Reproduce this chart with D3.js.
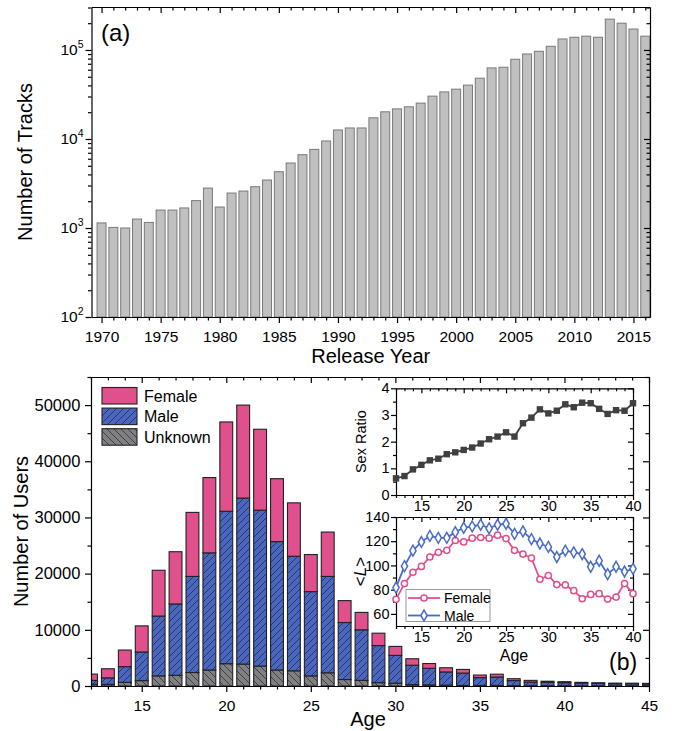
<!DOCTYPE html>
<html><head><meta charset="utf-8">
<script src="https://cdn.jsdelivr.net/npm/d3@7"></script>
<style>
body{margin:0;background:#fff;}
svg{display:block;font-family:Arial,"Liberation Sans",sans-serif;}
.ax path,.ax line{stroke:#000;stroke-width:1.2;}
.ax text{fill:#000;}
</style></head><body>
<svg id="c" width="674" height="731"></svg>
<script>
// ---------- DATA ----------
const years = [1970,1971,1972,1973,1974,1975,1976,1977,1978,1979,1980,1981,1982,1983,1984,1985,1986,1987,1988,1989,
  1990,1991,1992,1993,1994,1995,1996,1997,1998,1999,2000,2001,2002,2003,2004,2005,2006,2007,2008,2009,
  2010,2011,2012,2013,2014,2015,2016];
const trackCounts = [1140,1015,1000,1260,1155,1590,1590,1680,2030,2810,1720,2470,2600,2910,3460,4290,5370,6660,7640,9500,
  12630,13300,13300,17300,20200,21800,23000,25300,30300,33800,36300,40300,48200,62900,64000,78700,90200,96700,110000,133000,
  139000,143000,139000,222000,200000,172000,143000];
const yearTicks = [1970,1975,1980,1985,1990,1995,2000,2005,2010,2015];
const logTicks = [100,1000,10000,100000];
const logTickExp = ["2","3","4","5"];

const ages = [12,13,14,15,16,17,18,19,20,21,22,23,24,25,26,27,28,29,30,31,32,33,34,35,36,37,38,39,40,41,42,43,44,45];
const unknownUsers = [300,300,650,950,1800,1900,2400,2850,3970,3900,3550,2850,2700,1800,2350,1150,1000,600,500,250,200,150,100,100,100,70,50,50,50,40,40,30,30,30];
const maleUsers = [700,1150,2800,5100,10650,12700,17100,20850,27130,29550,27750,22850,20400,15000,17150,10150,9000,6600,4950,3450,2950,2350,2200,1400,1500,900,650,600,550,470,420,380,370,340];
const femaleUsers = [1120,1620,2950,4650,8150,9300,11400,13400,15900,16550,14400,11200,9500,6600,7900,3900,3100,2200,1600,1150,850,750,650,450,500,330,300,200,170,140,120,100,100,100];
const genders = ["Unknown","Male","Female"];
const userTicks = [0,10000,20000,30000,40000,50000];
const ageTicks = [15,20,25,30,35,40,45];

const insetAges = [12,13,14,15,16,17,18,19,20,21,22,23,24,25,26,27,28,29,30,31,32,33,34,35,36,37,38,39,40];
const sexRatio = [0.625,0.71,0.96,1.13,1.30,1.36,1.53,1.60,1.69,1.78,1.93,2.09,2.19,2.35,2.19,2.69,2.90,3.21,3.06,3.16,3.40,3.29,3.46,3.44,3.23,3.04,3.18,3.16,3.44];
const lengthFemale = [72,85,94.4,99.2,107,110.8,112.5,120.6,119.4,122.5,123.1,122.5,125,122.2,112.5,109.4,106.1,88.6,91.7,84.2,83.9,79.2,72.5,76.1,76.7,72.2,73.9,85,76.7];
const lengthMale = [81.7,99.4,112.2,119.4,124.4,122.8,122.8,127.5,131.1,132.2,133.6,130.6,133.6,134.4,126.1,128.1,121.7,118.1,115.3,107,112.2,110.8,109.4,98.9,103.9,92.8,98.9,95,97.2];
const insetAgeTicks = [15,20,25,30,35,40];
const ratioTicks = [0,1,2,3,4];
const lengthTicks = [60,80,100,120,140];

// ---------- STYLE ----------
const pink = "#E0508C", blue = "#4A66BE", grey = "#808080";
const fmt = d3.format("d");
const svg = d3.select("#c");
const defs = svg.append("defs");
function hatch(id, bg, dir){
  const s = 7;
  const p = defs.append("pattern").attr("id",id).attr("patternUnits","userSpaceOnUse").attr("width",s).attr("height",s);
  p.append("rect").attr("width",s).attr("height",s).attr("fill",bg);
  const d = dir>0 ? `M-1,${s+1} L${s+1},-1 M-3,3 L3,-3 M${s-3},${s+3} L${s+3},${s-3}`
                  : `M-1,-1 L${s+1},${s+1} M-3,${s-3} L3,${s+3} M${s-3},-3 L${s+3},3`;
  p.append("path").attr("d",d).attr("stroke","#1a1f3a").attr("stroke-width",0.75).attr("stroke-opacity",0.9);
}
hatch("hMale", blue, 1);
hatch("hUnk", grey, -1);
const fillOf = {Female: pink, Male: "url(#hMale)", Unknown: "url(#hUnk)"};

function range1(a,b,s){const r=[];for(let v=a;v<=b+1e-9;v+=s)r.push(+v.toFixed(6));return r;}

function drawAxis(g, axisFn, scale, vals, size, labels, tx, ty){
  const a = axisFn(scale).tickValues(vals).tickSizeInner(size).tickSizeOuter(0).tickFormat(labels?fmt:"");
  return g.append("g").attr("class","ax").attr("transform",`translate(${tx},${ty})`).call(a);
}

// ================= PANEL (a) =================
const aL=91.5,aR=650,aT=7,aB=317;
const xTop = d3.scaleLinear().domain([1969.15,2016.4]).range([aL,aR]);
const yTop = d3.scaleLog().domain([100,3.04e5]).range([aB,aT]);
const bwTop = (xTop(1971)-xTop(1970))*0.76;
const gA = svg.append("g");
gA.selectAll("rect.tb").data(years).enter().append("rect")
  .attr("x",(d)=>xTop(d)-bwTop/2).attr("width",bwTop)
  .attr("y",(d,i)=>yTop(trackCounts[i])).attr("height",(d,i)=>aB-yTop(trackCounts[i]))
  .attr("fill","#c0c0c0").attr("stroke","#7a7a7a").attr("stroke-width",1);

const minorYears = years.filter(y=>y%5!==0);
drawAxis(gA,d3.axisBottom,xTop,yearTicks,6,true,0,aB).selectAll("text").attr("font-size",15.5).attr("dy","1.05em");
drawAxis(gA,d3.axisBottom,xTop,minorYears,3.5,false,0,aB).select(".domain").remove();
drawAxis(gA,d3.axisTop,xTop,yearTicks,-6,false,0,aT);
drawAxis(gA,d3.axisTop,xTop,minorYears,-3.5,false,0,aT).select(".domain").remove();
const logMinor=[];
[100,1000,10000,100000].forEach(b=>{for(let k=2;k<=9;k++){const v=b*k;if(v<=3.04e5)logMinor.push(v);}});
drawAxis(gA,d3.axisLeft,yTop,logTicks,6,false,aL,0);
drawAxis(gA,d3.axisLeft,yTop,logMinor,3.5,false,aL,0).select(".domain").remove();
drawAxis(gA,d3.axisRight,yTop,logTicks,-6,false,aR,0);
drawAxis(gA,d3.axisRight,yTop,logMinor,-3.5,false,aR,0).select(".domain").remove();
logTicks.forEach((v,i)=>{
  const t = gA.append("text").attr("x",aL-8).attr("y",yTop(v)+5).attr("text-anchor","end").attr("font-size",15.5);
  t.append("tspan").text("10");
  t.append("tspan").attr("dy",-7).attr("font-size",10.5).text(logTickExp[i]);
});
gA.append("text").attr("transform",`translate(32,${(aT+aB)/2}) rotate(-90)`).attr("text-anchor","middle").attr("font-size",20).text("Number of Tracks");
gA.append("text").attr("x",(aL+aR)/2).attr("y",363).attr("text-anchor","middle").attr("font-size",20).text("Release Year");
gA.append("text").attr("x",101).attr("y",41).attr("font-size",24).text("(a)");

// ================= PANEL (b) =================
const bL=91,bR=649,bT=377,bB=686;
const xB = d3.scaleLinear().domain([12,45]).range([bL,bR]);
const yB = d3.scaleLinear().domain([0,55000]).range([bB,bT]);
const bwB = (xB(13)-xB(12))*0.76;
defs.append("clipPath").attr("id","clipB").append("rect").attr("x",bL).attr("y",bT).attr("width",bR-bL).attr("height",bB-bT);
const gB = svg.append("g");
const rows = ages.map((a,i)=>({age:a,Unknown:unknownUsers[i],Male:maleUsers[i],Female:femaleUsers[i]}));
const stacked = d3.stack().keys(genders)(rows);
const barsG = gB.append("g").attr("clip-path","url(#clipB)");
stacked.forEach(layer=>{
  barsG.selectAll(null).data(layer).enter().append("rect")
    .attr("x",d=>xB(d.data.age)-bwB/2).attr("width",bwB)
    .attr("y",d=>yB(d[1])).attr("height",d=>yB(d[0])-yB(d[1]))
    .attr("fill",fillOf[layer.key]).attr("stroke","#222").attr("stroke-width",1.1);
});
const ageMinor = range1(12,45,1).filter(v=>v%5!==0);
drawAxis(gB,d3.axisBottom,xB,ageTicks,6,true,0,bB).selectAll("text").attr("font-size",15.5).attr("dy","1.05em");
drawAxis(gB,d3.axisBottom,xB,ageMinor,3.5,false,0,bB).select(".domain").remove();
drawAxis(gB,d3.axisTop,xB,ageTicks,-6,false,0,bT);
drawAxis(gB,d3.axisTop,xB,ageMinor,-3.5,false,0,bT).select(".domain").remove();
const userMinor=[5000,15000,25000,35000,45000,55000];
drawAxis(gB,d3.axisLeft,yB,userTicks,6,true,bL,0).selectAll("text").attr("font-size",16.5).attr("dx","-0.1em");
drawAxis(gB,d3.axisLeft,yB,userMinor,3.5,false,bL,0).select(".domain").remove();
drawAxis(gB,d3.axisRight,yB,userTicks,-6,false,bR,0);
drawAxis(gB,d3.axisRight,yB,userMinor,-3.5,false,bR,0).select(".domain").remove();
gB.append("text").attr("transform",`translate(28,${(bT+bB)/2}) rotate(-90)`).attr("text-anchor","middle").attr("font-size",20).text("Number of Users");
gB.append("text").attr("x",368).attr("y",726).attr("text-anchor","middle").attr("font-size",20).text("Age");
gB.append("text").attr("x",609).attr("y",670).attr("font-size",23).text("(b)");
// legend
const legG = gB.append("g");
["Female","Male","Unknown"].forEach((k,i)=>{
  const y0 = 387.5 + i*20.6;
  legG.append("rect").attr("x",102).attr("y",y0).attr("width",35).attr("height",16.5).attr("fill",fillOf[k]).attr("stroke","#222").attr("stroke-width",1.1);
  legG.append("text").attr("x",144).attr("y",y0+14).attr("font-size",16).text(k);
});

// ================= INSETS =================
const iL=396,iR=633;
const xI = d3.scaleLinear().domain([12,40]).range([iL,iR]);
const insMinor = range1(12,40,1).filter(v=>v%5!==0);
function insetFrame(g, yS, T, B, yT, yMinor){
  g.append("rect").attr("x",iL).attr("y",T).attr("width",iR-iL).attr("height",B-T).attr("fill","#fff");
  drawAxis(g,d3.axisBottom,xI,insetAgeTicks,5,true,0,B).selectAll("text").attr("font-size",14.5).attr("dy","0.55em");
  drawAxis(g,d3.axisBottom,xI,insMinor,3,false,0,B).select(".domain").remove();
  drawAxis(g,d3.axisTop,xI,insetAgeTicks,-5,false,0,T);
  drawAxis(g,d3.axisTop,xI,insMinor,-3,false,0,T).select(".domain").remove();
  drawAxis(g,d3.axisLeft,yS,yT,5,true,iL,0).selectAll("text").attr("font-size",14.5).attr("dx","0.1em");
  drawAxis(g,d3.axisLeft,yS,yMinor,3,false,iL,0).select(".domain").remove();
  drawAxis(g,d3.axisRight,yS,yT,-5,false,iR,0);
  drawAxis(g,d3.axisRight,yS,yMinor,-3,false,iR,0).select(".domain").remove();
  g.selectAll(".ax path,.ax line").attr("stroke-width",1);
}
// inset 1: sex ratio
const s1T=388.3,s1B=495;
const ySR = d3.scaleLinear().domain([0,4]).range([s1B,s1T]);
const g1 = svg.append("g");
insetFrame(g1, ySR, s1T, s1B, ratioTicks, [0.5,1.5,2.5,3.5]);
g1.append("path").datum(insetAges).attr("fill","none").attr("stroke","#404040").attr("stroke-width",1.8)
  .attr("d",d3.line().x(d=>xI(d)).y((d,i)=>ySR(sexRatio[i])));
g1.selectAll("rect.sq").data(insetAges).enter().append("rect")
  .attr("x",d=>xI(d)-3.2).attr("y",(d,i)=>ySR(sexRatio[i])-3.2).attr("width",6.4).attr("height",6.4).attr("fill","#404040");
g1.append("text").attr("transform",`translate(366,${(s1T+s1B)/2}) rotate(-90)`).attr("text-anchor","middle").attr("font-size",14.5).text("Sex Ratio");

// inset 2: <L>
const s2T=517,s2B=626;
const yLen = d3.scaleLinear().domain([50,140]).range([s2B,s2T]);
const g2 = svg.append("g");
insetFrame(g2, yLen, s2T, s2B, lengthTicks, [70,90,110,130]);
const mBlue = "#4A6CC8";
const series = [{name:"Female",vals:lengthFemale,col:pink,sym:d3.symbolCircle,size:30},
                {name:"Male",vals:lengthMale,col:mBlue,sym:d3.symbolDiamond,size:34}];
series.forEach(s=>{
  g2.append("path").datum(insetAges).attr("fill","none").attr("stroke",s.col).attr("stroke-width",1.8)
    .attr("d",d3.line().x(d=>xI(d)).y((d,i)=>yLen(s.vals[i])));
  g2.selectAll(null).data(insetAges).enter().append("path")
    .attr("transform",(d,i)=>`translate(${xI(d)},${yLen(s.vals[i])})`)
    .attr("d",d3.symbol().type(s.sym).size(s.size)).attr("fill","#fff").attr("stroke",s.col).attr("stroke-width",1.5);
});
// inset legend
g2.append("rect").attr("x",406).attr("y",589.5).attr("width",84).attr("height",32).attr("fill","#fff").attr("stroke","#999").attr("stroke-width",1);
series.forEach((s,i)=>{
  const y0 = 598 + i*17.5;
  g2.append("line").attr("x1",408).attr("x2",440).attr("y1",y0).attr("y2",y0).attr("stroke",s.col).attr("stroke-width",1.8);
  g2.append("path").attr("transform",`translate(424,${y0})`).attr("d",d3.symbol().type(s.sym).size(s.size)).attr("fill","#fff").attr("stroke",s.col).attr("stroke-width",1.5);
  g2.append("text").attr("x",444).attr("y",y0+5).attr("font-size",14).text(s.name);
});
const lt = g2.append("text").attr("transform",`translate(366,${(s2T+s2B)/2}) rotate(-90)`).attr("text-anchor","middle").attr("font-size",17);
lt.append("tspan").text("<");
lt.append("tspan").attr("font-style","italic").text("L");
lt.append("tspan").text(">");
g2.append("text").attr("x",514).attr("y",661).attr("text-anchor","middle").attr("font-size",16).text("Age");
</script></body></html>
